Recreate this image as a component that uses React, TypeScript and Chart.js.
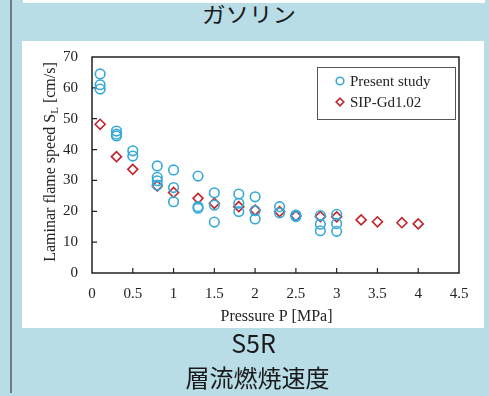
import React, { useEffect, useRef } from "react";
import { Chart, registerables } from "chart.js";

Chart.register(...registerables);

// ---- data ----
const presentP = [
  0.1, 0.1, 0.1,
  0.3, 0.3, 0.3,
  0.5, 0.5,
  0.8, 0.8, 0.8, 0.8,
  1.0, 1.0, 1.0,
  1.3, 1.3, 1.3,
  1.5, 1.5, 1.5,
  1.8, 1.8, 1.8,
  2.0, 2.0, 2.0,
  2.3, 2.3,
  2.5, 2.5,
  2.8, 2.8, 2.8,
  3.0, 3.0, 3.0,
];
const presentS = [
  64.5, 61.0, 59.6,
  46.0, 45.0, 44.4,
  39.6, 37.9,
  34.7, 31.0, 29.9, 28.5,
  33.4, 27.7, 23.1,
  31.4, 21.5, 21.0,
  26.0, 22.0, 16.5,
  25.6, 22.6, 19.9,
  24.7, 20.2, 17.5,
  21.5, 19.5,
  18.8, 18.3,
  18.6, 15.8, 13.7,
  19.0, 16.0, 13.5,
];
const sipP = [0.1, 0.3, 0.5, 0.8, 1.0, 1.3, 1.5, 1.8, 2.0, 2.3, 2.5, 2.8, 3.0, 3.3, 3.5, 3.8, 4.0];
const sipS = [48.2, 37.7, 33.6, 28.2, 26.1, 24.2, 22.6, 21.5, 20.4, 19.9, 18.5, 18.3, 18.2, 17.2, 16.6, 16.3, 15.9];

const seriesNames = ["Present study", "SIP-Gd1.02"];
const xTitle = "Pressure P [MPa]";
const yTitleParts = ["Laminar flame speed S", "L", " [cm/s]"];
const xMin = 0, xMax = 4.5, xStep = 0.5;
const yMin = 0, yMax = 70, yStep = 10;

const blue = "#36a9d8";
const red = "#c0232c";
const serif = "'Liberation Serif', 'Times New Roman', serif";

const framePlugin = {
  id: "frameAndExtras",
  beforeDatasetsDraw(chart: any) {
    const { ctx, chartArea: a, scales } = chart;
    ctx.save();
    ctx.strokeStyle = "#222";
    ctx.lineWidth = 1.5;
    ctx.strokeRect(a.left, a.top, a.right - a.left, a.bottom - a.top);
    ctx.lineWidth = 1.2;
    ctx.beginPath();
    scales.x.ticks.forEach((t: any) => {
      if (t.value <= xMin || t.value >= xMax) return;
      const px = scales.x.getPixelForValue(t.value);
      ctx.moveTo(px, a.bottom);
      ctx.lineTo(px, a.bottom - 5);
    });
    scales.y.ticks.forEach((t: any) => {
      if (t.value <= yMin || t.value >= yMax) return;
      const py = scales.y.getPixelForValue(t.value);
      ctx.moveTo(a.left, py);
      ctx.lineTo(a.left + 5, py);
    });
    ctx.stroke();
    ctx.restore();
  },
  afterDraw(chart: any) {
    const { ctx, chartArea: a } = chart;
    ctx.save();
    ctx.fillStyle = "#222";
    // x title
    ctx.font = `16px ${serif}`;
    ctx.textAlign = "center";
    ctx.textBaseline = "middle";
    ctx.fillText(xTitle, (a.left + a.right) / 2 + 1, a.bottom + 44);
    // y title with subscript
    const mainFont = `16px ${serif}`;
    const subFont = `11px ${serif}`;
    ctx.font = mainFont;
    const w0 = ctx.measureText(yTitleParts[0]).width;
    const w2 = ctx.measureText(yTitleParts[2]).width;
    ctx.font = subFont;
    const w1 = ctx.measureText(yTitleParts[1]).width;
    const total = w0 + w1 + w2;
    ctx.translate(a.left - 42, (a.top + a.bottom) / 2 - 3);
    ctx.rotate(-Math.PI / 2);
    ctx.textAlign = "left";
    ctx.textBaseline = "alphabetic";
    let x = -total / 2;
    const base = 5;
    ctx.font = mainFont;
    ctx.fillText(yTitleParts[0], x, base);
    x += w0;
    ctx.font = subFont;
    ctx.fillText(yTitleParts[1], x, base + 3);
    x += w1;
    ctx.font = mainFont;
    ctx.fillText(yTitleParts[2], x, base);
    ctx.restore();

    // legend box
    ctx.save();
    const bx = a.right - 142, by = a.top + 10, bw = 138, bh = 52;
    ctx.strokeStyle = "#555";
    ctx.lineWidth = 1;
    ctx.strokeRect(bx + 0.5, by + 0.5, bw, bh);
    ctx.font = `15px ${serif}`;
    ctx.fillStyle = "#222";
    ctx.textAlign = "left";
    ctx.textBaseline = "middle";
    const mx = bx + 23;
    const y1 = by + 14, y2 = by + 35;
    ctx.strokeStyle = blue;
    ctx.lineWidth = 1.6;
    ctx.beginPath();
    ctx.arc(mx, y1, 3.8, 0, Math.PI * 2);
    ctx.stroke();
    ctx.fillText(seriesNames[0], mx + 10, y1 + 1);
    ctx.strokeStyle = red;
    ctx.beginPath();
    const r = 3.8;
    ctx.moveTo(mx, y2 - r);
    ctx.lineTo(mx + r, y2);
    ctx.lineTo(mx, y2 + r);
    ctx.lineTo(mx - r, y2);
    ctx.closePath();
    ctx.stroke();
    ctx.fillText(seriesNames[1], mx + 10, y2 + 1);
    ctx.restore();
  },
};

function ChartView() {
  const ref = useRef<HTMLCanvasElement>(null);
  useEffect(() => {
    if (!ref.current) return;
    const chart = new Chart(ref.current, {
      type: "scatter",
      data: {
        datasets: [
          {
            label: seriesNames[0],
            data: presentP.map((p, i) => ({ x: p, y: presentS[i] })),
            pointStyle: "circle",
            pointRadius: 4.8,
            borderColor: blue,
            backgroundColor: "rgba(0,0,0,0)",
            borderWidth: 1.6,
          },
          {
            label: seriesNames[1],
            data: sipP.map((p, i) => ({ x: p, y: sipS[i] })),
            pointStyle: "rectRot",
            pointRadius: 5,
            borderColor: red,
            backgroundColor: "rgba(0,0,0,0)",
            borderWidth: 1.6,
          },
        ],
      },
      options: {
        animation: false,
        responsive: false,
        devicePixelRatio: 1,
        layout: { padding: { top: 16, right: 25, left: 0, bottom: 0 } },
        plugins: { legend: { display: false }, tooltip: { enabled: false } },
        scales: {
          x: {
            type: "linear",
            min: xMin,
            max: xMax,
            grid: { display: false, drawTicks: false },
            border: { display: false },
            ticks: {
              stepSize: xStep,
              padding: 12,
              color: "#222",
              font: { family: serif, size: 15 },
              maxRotation: 0,
              callback: (v: any) => String(v),
            },
            afterFit: (s: any) => {
              s.height = 55;
              s.paddingLeft = 0;
              s.paddingRight = 0;
            },
          },
          y: {
            type: "linear",
            min: yMin,
            max: yMax,
            grid: { display: false, drawTicks: false },
            border: { display: false },
            ticks: {
              stepSize: yStep,
              padding: 14,
              color: "#222",
              font: { family: serif, size: 15 },
            },
            afterFit: (s: any) => {
              s.width = 70;
              s.paddingTop = 0;
              s.paddingBottom = 0;
            },
          },
        },
      },
      plugins: [framePlugin],
    } as any);
    return () => chart.destroy();
  }, []);
  return <canvas ref={ref} width={462} height={287} style={{ display: "block", width: 462, height: 287 }} />;
}

export default function App() {
  const jp = "'Noto Sans CJK JP', 'Noto Sans', sans-serif";
  const textStyle: React.CSSProperties = {
    position: "absolute",
    left: 12,
    width: 477,
    textAlign: "center",
    fontFamily: jp,
    fontSize: 24,
    lineHeight: "26px",
    color: "#1a1a1a",
  };
  return (
    <div
      style={{
        position: "fixed",
        left: 0,
        top: 0,
        width: 489,
        height: 396,
        background: "rgb(184,221,231)",
        overflow: "hidden",
      }}
    >
      <div style={{ position: "absolute", left: 10, top: 0, width: 2, height: 393, background: "#6f7d82" }} />
      <div style={{ position: "absolute", left: 23, top: 0, width: 462, height: 3, background: "#fff" }} />
      <div style={{ ...textStyle, top: 0, fontSize: 21, transform: "scaleX(1.12)", transformOrigin: "251px 50%" }}>ガソリン</div>
      <div style={{ position: "absolute", left: 22, top: 41, width: 462, height: 287, background: "#fff" }}>
        <ChartView />
      </div>
      <div style={{ ...textStyle, top: 329, left: 15, fontSize: 25 }}>S5R</div>
      <div style={{ ...textStyle, top: 364, left: 19 }}>層流燃焼速度</div>
    </div>
  );
}
